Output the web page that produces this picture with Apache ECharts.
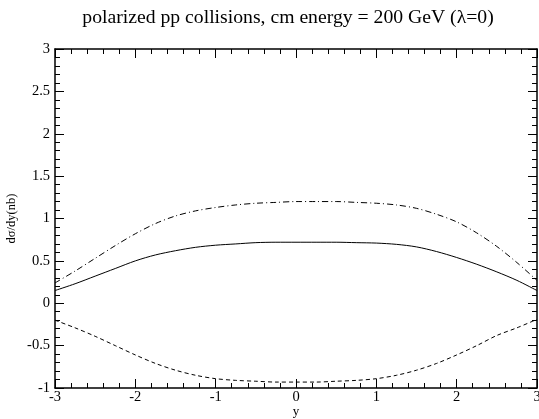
<!DOCTYPE html>
<html>
<head>
<meta charset="utf-8">
<script src="https://cdn.jsdelivr.net/npm/echarts@6/dist/echarts.min.js"></script>
<style>html,body{margin:0;padding:0;background:#fff}#c{width:539px;height:419px}</style>
</head>
<body>
<div id="c"></div>
<script>
const xs = [-3,-2.75,-2.5,-2.25,-2,-1.75,-1.5,-1.25,-1,-0.75,-0.5,-0.25,0,0.25,0.5,0.75,1,1.25,1.5,1.75,2,2.25,2.5,2.75,3];
const solid = [0.15,0.23,0.32,0.41,0.50,0.57,0.62,0.66,0.685,0.70,0.715,0.72,0.72,0.72,0.72,0.715,0.71,0.695,0.665,0.61,0.54,0.46,0.37,0.27,0.15];
const dashDot = [0.24,0.38,0.53,0.68,0.82,0.94,1.03,1.09,1.13,1.16,1.18,1.19,1.20,1.20,1.20,1.19,1.18,1.16,1.12,1.05,0.96,0.83,0.67,0.48,0.27];
const dashed = [-0.20,-0.29,-0.39,-0.50,-0.61,-0.71,-0.79,-0.85,-0.89,-0.91,-0.92,-0.93,-0.93,-0.93,-0.92,-0.91,-0.89,-0.85,-0.79,-0.71,-0.61,-0.50,-0.38,-0.29,-0.19];
const titleText = 'polarized pp collisions, cm energy = 200 GeV (\u03bb=0)';
const xName = 'y';
const yName = 'd\u03c3/dy(nb)';

const serif = '"Liberation Serif", "DejaVu Serif", serif';
const pair = arr => xs.map((x, i) => [x, arr[i]]);
const axisLine = {show: true, onZero: false, lineStyle: {color: '#000', width: 1.5}};
const tick = {show: true, inside: true, length: 9, lineStyle: {color: '#000', width: 1}};
const minor = {show: true, splitNumber: 5, length: 5, lineStyle: {color: '#000', width: 1}};

const chart = echarts.init(document.getElementById('c'), null, {renderer: 'canvas'});
chart.setOption({
  animation: false,
  backgroundColor: '#fff',
  title: {text: titleText, left: 283, top: 3, textAlign: 'center',
    textStyle: {fontFamily: serif, fontWeight: 'normal', fontSize: 19.7, color: '#000'}},
  grid: {left: 55, right: 2, top: 49, bottom: 31, containLabel: false, outerBoundsMode: 'none'},
  xAxis: [
    {type: 'value', min: -3, max: 3, interval: 1, position: 'bottom',
     name: xName, nameLocation: 'middle', nameGap: 17, nameMoveOverlap: false,
     nameTextStyle: {fontFamily: serif, fontSize: 13, color: '#000'},
     axisLine, axisTick: tick, minorTick: minor, splitLine: {show: false}, minorSplitLine: {show: false},
     axisLabel: {fontFamily: serif, fontSize: 14.5, color: '#000', margin: 2}},
    {type: 'value', min: -3, max: 3, interval: 1, position: 'top',
     axisLine, axisTick: tick, minorTick: minor, splitLine: {show: false}, axisLabel: {show: false}}
  ],
  yAxis: [
    {type: 'value', min: -1, max: 3, interval: 0.5, position: 'left',
     name: yName, nameLocation: 'middle', nameGap: 37, nameMoveOverlap: false,
     nameTextStyle: {fontFamily: serif, fontSize: 12.5, color: '#000'},
     axisLine, axisTick: tick, minorTick: minor, splitLine: {show: false}, minorSplitLine: {show: false},
     axisLabel: {fontFamily: serif, fontSize: 14.5, color: '#000', margin: 5}},
    {type: 'value', min: -1, max: 3, interval: 0.5, position: 'right',
     axisLine, axisTick: tick, minorTick: minor, splitLine: {show: false}, axisLabel: {show: false}}
  ],
  series: [
    {type: 'line', data: pair(solid), symbol: 'none', smooth: 0.3, lineStyle: {color: '#000', width: 1}},
    {type: 'line', data: pair(dashDot), symbol: 'none', smooth: 0.3, lineStyle: {color: '#000', width: 1, type: [6, 3, 1, 3]}},
    {type: 'line', data: pair(dashed), symbol: 'none', smooth: 0.3, lineStyle: {color: '#000', width: 1, type: [4, 3]}}
  ]
});
</script>
</body>
</html>
